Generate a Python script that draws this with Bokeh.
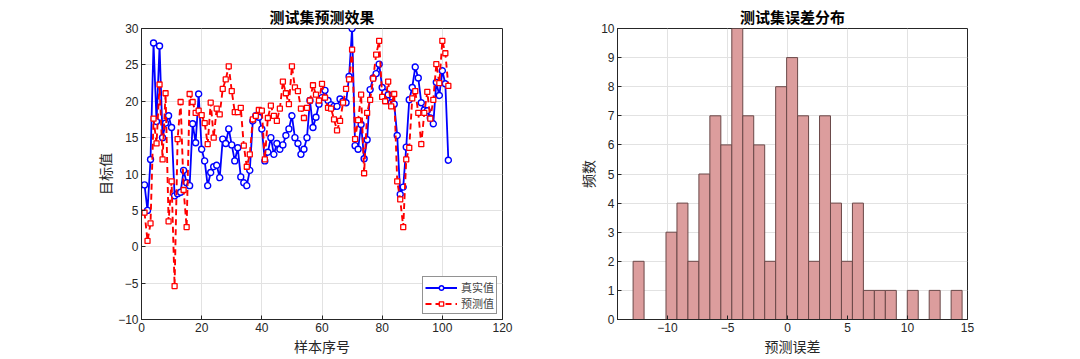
from bokeh.plotting import figure
from bokeh.layouts import row
from bokeh.models import Range1d, FixedTicker
from bokeh.embed import file_html
from bokeh.resources import INLINE

# ---------------- data ----------------
sample_idx = list(range(1, 103))

true_vals = [8.5, 5.0, 12.0, 28.0, 17.2, 27.6, 15.0, 17.0, 18.0, 16.4,
             7.0, 7.3, 7.5, 10.5, 8.8, 8.4, 16.9, 14.3, 21.0, 13.4,
             11.8, 8.4, 10.2, 11.0, 11.2, 9.5, 14.8, 14.2, 16.2, 14.0,
             11.8, 13.6, 9.6, 8.8, 8.4, 10.5, 17.3, 18.0, 17.8, 16.2,
             11.8, 13.0, 15.0, 12.7, 14.2, 13.4, 14.0, 15.3, 16.2, 18.0,
             15.0, 14.2, 12.7, 13.4, 15.0, 20.1, 16.4, 17.8, 19.6, 20.5,
             21.5, 20.1, 19.5, 19.3, 19.3, 20.3, 20.0, 19.8, 23.4, 30.0,
             13.9, 13.4, 16.8, 12.1, 14.7, 21.6, 23.2, 23.8, 25.1, 21.9,
             21.2, 20.9, 19.8, 19.6, 15.3, 7.2, 8.2, 13.7, 20.2, 21.9,
             24.7, 23.2, 19.8, 18.8, 18.7, 17.7, 16.9, 22.6, 20.8, 24.2,
             22.4, 11.9]

pred_vals = [4.7, 0.8, 3.2, 17.6, 14.2, 22.3, 12.0, 21.1, 3.5, 9.0,
             -5.4, 14.8, 19.9, 7.8, 2.7, 21.0, 19.9, 18.4, 18.7, 18.1,
             17.0, 14.1, 19.8, 15.0, 19.0, 18.2, 21.7, 23.0, 24.8, 21.4,
             18.5, 18.5, 19.1, 13.9, 11.0, 12.7, 17.5, 18.0, 18.8, 18.7,
             12.0, 17.7, 19.4, 18.0, 17.3, 19.0, 22.7, 21.1, 19.6, 24.8,
             21.9, 21.4, 19.0, 17.7, 19.1, 20.1, 22.2, 20.9, 20.1, 22.4,
             20.5, 19.1, 19.0, 17.5, 16.0, 17.3, 19.8, 21.7, 23.0, 27.1,
             14.8, 17.4, 20.9, 10.1, 18.4, 20.2, 23.1, 26.4, 28.3, 20.6,
             20.0, 22.7, 19.3, 21.0, 9.0, 6.5, 2.7, 12.0, 13.6, 20.4,
             21.4, 18.4, 14.1, 18.4, 21.3, 17.6, 20.2, 25.1, 22.5, 28.3,
             26.6, 22.1]

hist_counts = [2, 0, 0, 3, 4, 2, 5, 7, 6, 10,
               7, 6, 2, 8, 9, 7, 2, 7, 4, 2,
               4, 1, 1, 1, 0, 1, 0, 1, 0, 1]
hist_first_edge = -12.87
hist_bin_width = 0.914
hist_left = [hist_first_edge + k * hist_bin_width for k in range(len(hist_counts))]
hist_right = [hist_first_edge + (k + 1) * hist_bin_width for k in range(len(hist_counts))]

x1_ticks = [0, 20, 40, 60, 80, 100, 120]
y1_ticks = [-10, -5, 0, 5, 10, 15, 20, 25, 30]
x2_ticks = [-10, -5, 0, 5, 10, 15]
y2_ticks = list(range(0, 11))

CJK = "Noto Sans CJK SC"
NUM = "Liberation Sans"
AX = "#262626"
GRID = "#e2e2e2"


def style_axis(ax, ticks):
    ax.ticker = FixedTicker(ticks=ticks)
    ax.axis_line_color = AX
    ax.axis_line_width = 1
    ax.major_tick_line_color = AX
    ax.major_tick_in = 4
    ax.major_tick_out = 0
    ax.minor_tick_line_color = None
    ax.major_label_text_font = NUM
    ax.major_label_text_color = AX
    ax.major_label_text_font_size = "12px"
    ax.major_label_standoff = 3
    ax.axis_label_text_font = CJK
    ax.axis_label_text_font_size = "14px"
    ax.axis_label_text_font_style = "normal"
    ax.axis_label_text_color = AX


def make_fig(width, bl, br, xr, yr, xt, yt, title, xlabel, ylabel):
    p = figure(width=width, height=359, output_backend="svg", toolbar_location=None,
               x_range=xr, y_range=yr, min_border_left=bl, min_border_right=br,
               min_border_top=28, min_border_bottom=40)
    p.background_fill_color = "white"
    p.border_fill_color = "white"
    p.outline_line_color = AX
    p.outline_line_width = 1
    p.title.text = title
    p.title.align = "center"
    p.title.text_font = CJK
    p.title.text_font_size = "15px"
    p.title.text_font_style = "bold"
    p.title.text_color = "black"
    p.title.standoff = 3
    style_axis(p.xaxis[0], xt)
    style_axis(p.yaxis[0], yt)
    p.xaxis[0].axis_label = xlabel
    p.yaxis[0].axis_label = ylabel
    p.xaxis[0].axis_label_standoff = 1
    p.yaxis[0].axis_label_standoff = 0
    p.xgrid.ticker = FixedTicker(ticks=xt)
    p.ygrid.ticker = FixedTicker(ticks=yt)
    p.xgrid.grid_line_color = GRID
    p.ygrid.grid_line_color = GRID
    return p


p1 = make_fig(560, 141, 58, Range1d(0, 120), Range1d(-10, 30), x1_ticks, y1_ticks,
              "测试集预测效果", "样本序号", "目标值")

p1.line(sample_idx, true_vals, line_color="#0000ff", line_width=1.8, legend_label="真实值")
p1.scatter(sample_idx, true_vals, marker="circle", size=6, line_color="#0000ff",
           line_width=1.4, fill_color="white", legend_label="真实值")
p1.line(sample_idx, pred_vals, line_color="#ff0000", line_width=1.9, line_dash="6 4",
        legend_label="预测值")
p1.scatter(sample_idx, pred_vals, marker="square", size=5, line_color="#ff0000",
           line_width=1.3, fill_color="white", legend_label="预测值")

lg = p1.legend[0]
lg.location = "bottom_right"
lg.border_line_color = AX
lg.border_line_width = 1
lg.label_text_font = CJK
lg.label_text_font_size = "11px"
lg.label_standoff = 4
lg.glyph_width = 32
lg.glyph_height = 11
lg.label_height = 11
lg.spacing = 0
lg.padding = 2
lg.margin = 5
lg.background_fill_alpha = 1

p2 = make_fig(520, 57, 113, Range1d(-14.17, 15.0), Range1d(0, 10), x2_ticks, y2_ticks,
              "测试集误差分布", "预测误差", "频数")
p2.quad(left=hist_left, right=hist_right, top=hist_counts, bottom=0,
        fill_color="#dc9d9d", line_color="#6a4848", line_width=1)

layout = row(p1, p2)
open("out.html", "w").write(file_html(layout, INLINE))
